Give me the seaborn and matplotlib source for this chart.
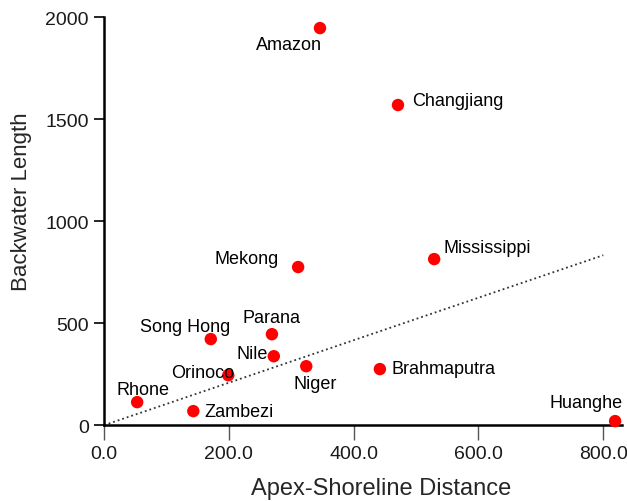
import pandas as pd
import numpy as np
import matplotlib.pyplot as plt
import seaborn as sns

sns.set_theme(style="white")
plt.rcParams['font.family'] = ['Liberation Sans', 'DejaVu Sans']

# data
rivers = ['Amazon', 'Changjiang', 'Mississippi', 'Mekong', 'Parana', 'Song Hong', 'Nile',
          'Niger', 'Orinoco', 'Brahmaputra', 'Rhone', 'Zambezi', 'Huanghe']
apex_distance = [346, 471, 529, 311, 269, 171, 272, 324, 199, 442, 53, 143, 819]
backwater_length = [1946, 1569, 814, 775, 446, 422, 338, 289, 245, 275, 113, 69, 20]

trend_x = [0, 800]
trend_y = [0, 833]

df = pd.DataFrame({'River': rivers, 'Apex': apex_distance, 'Backwater': backwater_length})
trend = pd.DataFrame({'x': trend_x, 'y': trend_y})

# label placement (offset in pixels, horizontal alignment)
label_pos = {
    'Amazon': (2, -16, 'right'),
    'Changjiang': (14, 5, 'left'),
    'Mississippi': (9, 12, 'left'),
    'Mekong': (-19, 9, 'right'),
    'Parana': (0, 17, 'center'),
    'Song Hong': (-26, 13, 'center'),
    'Nile': (-6, 3, 'right'),
    'Niger': (9, -17, 'center'),
    'Orinoco': (6, 3, 'right'),
    'Brahmaputra': (12, 1, 'left'),
    'Rhone': (6, 13, 'center'),
    'Zambezi': (11, 0, 'left'),
    'Huanghe': (-29, 19, 'center'),
}

fig = plt.figure(figsize=(6.27, 5.02), dpi=100)
ax = fig.add_axes([0.166, 0.151, 0.826, 0.813])

sns.lineplot(data=trend, x='x', y='y', ax=ax, color='#333333', linestyle=':', linewidth=1.3)
sns.scatterplot(data=df, x='Apex', y='Backwater', ax=ax, color='#ff0000', s=80,
                edgecolor='none', zorder=3, clip_on=False)

for _, row in df.iterrows():
    dx, dy, ha = label_pos[row['River']]
    ax.annotate(row['River'], (row['Apex'], row['Backwater']), xytext=(dx, dy),
                textcoords='offset pixels', ha=ha, va='center', fontsize=13, color='black')

ax.set_xlim(0, 830)
ax.set_ylim(0, 2000)
ax.set_xticks([0, 200, 400, 600, 800])
ax.set_xticklabels(['0.0', '200.0', '400.0', '600.0', '800.0'])
ax.set_yticks([0, 500, 1000, 1500, 2000])
ax.set_xlabel('Apex-Shoreline Distance', fontsize=17)
ax.set_ylabel('Backwater Length', fontsize=16)
ax.xaxis.set_label_coords(0.535, -0.128)
ax.yaxis.set_label_coords(-0.14, 0.55)

for side in ['top', 'right']:
    ax.spines[side].set_visible(False)
for side in ['left', 'bottom']:
    ax.spines[side].set_color('black')
    ax.spines[side].set_linewidth(1.8)

ax.tick_params(axis='y', direction='out', length=7, width=1.2, color='black',
               labelsize=14, left=True, pad=4, labelcolor='#1a1a1a')
ax.tick_params(axis='x', direction='out', length=11, width=1, color='#555555',
               labelsize=14, bottom=True, pad=3, labelcolor='#1a1a1a')

fig.savefig('out.png', dpi=100)
